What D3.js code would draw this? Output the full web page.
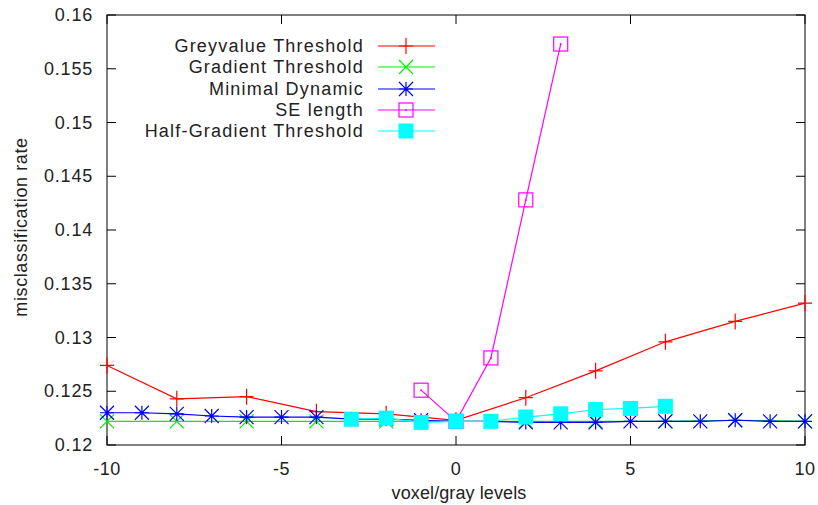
<!DOCTYPE html>
<html><head><meta charset="utf-8">
<script src="https://cdn.jsdelivr.net/npm/d3@7"></script>
<style>body{margin:0;background:#fff}svg{display:block}text{font-family:"Liberation Sans",Arial,sans-serif;fill:#222}</style>
</head><body>
<script>
const xTicks = [-10, -5, 0, 5, 10];
const yTicks = [0.12, 0.125, 0.13, 0.135, 0.14, 0.145, 0.15, 0.155, 0.16];
const yTickLabels = ["0.12", "0.125", "0.13", "0.135", "0.14", "0.145", "0.15", "0.155", "0.16"];

const greyX = [-10, -8, -6, -4, -2, 0, 2, 4, 6, 8, 10];
const greyY = [0.1274, 0.1243, 0.1245, 0.1231, 0.1229, 0.1223, 0.1244, 0.1269, 0.1296, 0.1315, 0.1332];
const gradX = [-10, -8, -6, -4, -2, 0, 2, 4, 6, 8, 10];
const gradY = [0.1222, 0.1222, 0.1222, 0.1222, 0.1222, 0.1222, 0.1222, 0.1222, 0.1222, 0.1223, 0.1222];
const minX = [-10, -9, -8, -7, -6, -5, -4, -3, -2, -1, 0, 1, 2, 3, 4, 5, 6, 7, 8, 9, 10];
const minY = [0.1230, 0.1230, 0.1229, 0.1227, 0.1226, 0.1226, 0.1226, 0.1224, 0.1224, 0.1223, 0.1222, 0.1222, 0.1221, 0.1221, 0.1221, 0.1222, 0.1222, 0.1222, 0.1223, 0.1222, 0.1222];
const seX = [-1, 0, 1, 2, 3];
const seY = [0.1251, 0.1222, 0.1281, 0.1428, 0.1573];
const halfX = [-3, -2, -1, 0, 1, 2, 3, 4, 5, 6];
const halfY = [0.1224, 0.1225, 0.1221, 0.1222, 0.1222, 0.1226, 0.1229, 0.1233, 0.1234, 0.1236];

const seriesNames = ["Greyvalue Threshold", "Gradient Threshold", "Minimal Dynamic", "SE length", "Half-Gradient Threshold"];
const seriesColors = ["#ff0000", "#00ee00", "#0000ff", "#ff00ff", "#00ffff"];
const seriesMarkers = ["plus", "cross", "star", "square", "fsquare"];
const seriesXs = [greyX, gradX, minX, seX, halfX];
const seriesYs = [greyY, gradY, minY, seY, halfY];

const W = 818, H = 505;
const L = 107, R = 805, T = 15, B = 445;
const x = d3.scaleLinear().domain([-10, 10]).range([L, R]);
const y = d3.scaleLinear().domain([0.12, 0.16]).range([B, T]);

const svg = d3.select("body").append("svg").attr("width", W).attr("height", H);

function marker(g, type, cx, cy, color) {
  const s = 7;
  if (type === "plus") {
    g.append("path").attr("d", `M${cx-s},${cy}H${cx+s}M${cx},${cy-s-1}V${cy+s+1}`).attr("stroke", color).attr("stroke-width", 1.2).attr("fill", "none");
  } else if (type === "cross") {
    g.append("path").attr("d", `M${cx-s},${cy-s}L${cx+s},${cy+s}M${cx-s},${cy+s}L${cx+s},${cy-s}`).attr("stroke", color).attr("stroke-width", 1.2).attr("fill", "none");
  } else if (type === "star") {
    g.append("path").attr("d", `M${cx-s},${cy}H${cx+s}M${cx},${cy-s}V${cy+s}M${cx-s},${cy-s}L${cx+s},${cy+s}M${cx-s},${cy+s}L${cx+s},${cy-s}`).attr("stroke", color).attr("stroke-width", 1.2).attr("fill", "none");
  } else if (type === "square") {
    g.append("rect").attr("x", cx-7).attr("y", cy-7).attr("width", 14).attr("height", 14).attr("stroke", color).attr("stroke-width", 1.2).attr("fill", "none");
    g.append("circle").attr("cx", cx).attr("cy", cy).attr("r", 1).attr("fill", color);
  } else if (type === "fsquare") {
    g.append("rect").attr("x", cx-7.5).attr("y", cy-7.5).attr("width", 15).attr("height", 15).attr("fill", color);
  }
}

// frame
svg.append("rect").attr("x", L).attr("y", T).attr("width", R-L).attr("height", B-T).attr("fill", "none").attr("stroke", "#000").attr("stroke-width", 1);

// ticks
const tl = 9;
const ax = svg.append("g").attr("stroke", "#000").attr("stroke-width", 1);
xTicks.forEach(v => {
  ax.append("line").attr("x1", x(v)).attr("x2", x(v)).attr("y1", B).attr("y2", B-tl);
  ax.append("line").attr("x1", x(v)).attr("x2", x(v)).attr("y1", T).attr("y2", T+tl);
});
yTicks.forEach(v => {
  ax.append("line").attr("x1", L).attr("x2", L+tl).attr("y1", y(v)).attr("y2", y(v));
  ax.append("line").attr("x1", R).attr("x2", R-tl).attr("y1", y(v)).attr("y2", y(v));
});
xTicks.forEach(v => {
  svg.append("text").attr("x", x(v)).attr("y", 475).attr("text-anchor", "middle").attr("font-size", 18).attr("letter-spacing", 0.5).text(v);
});
yTicks.forEach((v, i) => {
  svg.append("text").attr("x", 93).attr("y", y(v)+6).attr("text-anchor", "end").attr("font-size", 18).attr("letter-spacing", 0.8).text(yTickLabels[i]);
});
svg.append("text").attr("x", 459).attr("y", 499).attr("text-anchor", "middle").attr("font-size", 18).attr("letter-spacing", 0.1).text("voxel/gray levels");
svg.append("text").attr("transform", `translate(27,227) rotate(-90)`).attr("text-anchor", "middle").attr("font-size", 18).attr("letter-spacing", 0.6).text("misclassification rate");

// series
const line = d3.line().x(d => x(d[0])).y(d => y(d[1]));
seriesNames.forEach((name, i) => {
  const pts = seriesXs[i].map((xv, j) => [xv, seriesYs[i][j]]);
  const g = svg.append("g");
  g.append("path").attr("d", line(pts)).attr("fill", "none").attr("stroke", seriesColors[i]).attr("stroke-width", 1.2);
  pts.forEach(p => marker(g, seriesMarkers[i], x(p[0]), y(p[1]), seriesColors[i]));
});

// legend
const legY = [46, 67, 89, 110, 131];
seriesNames.forEach((name, i) => {
  const g = svg.append("g");
  g.append("text").attr("x", 364).attr("y", legY[i]+6).attr("text-anchor", "end").attr("font-size", 18).attr("letter-spacing", 1.2).text(name);
  g.append("line").attr("x1", 378).attr("x2", 435).attr("y1", legY[i]).attr("y2", legY[i]).attr("stroke", seriesColors[i]).attr("stroke-width", 1.2);
  marker(g, seriesMarkers[i], 406, legY[i], seriesColors[i]);
});
</script>
</body></html>
